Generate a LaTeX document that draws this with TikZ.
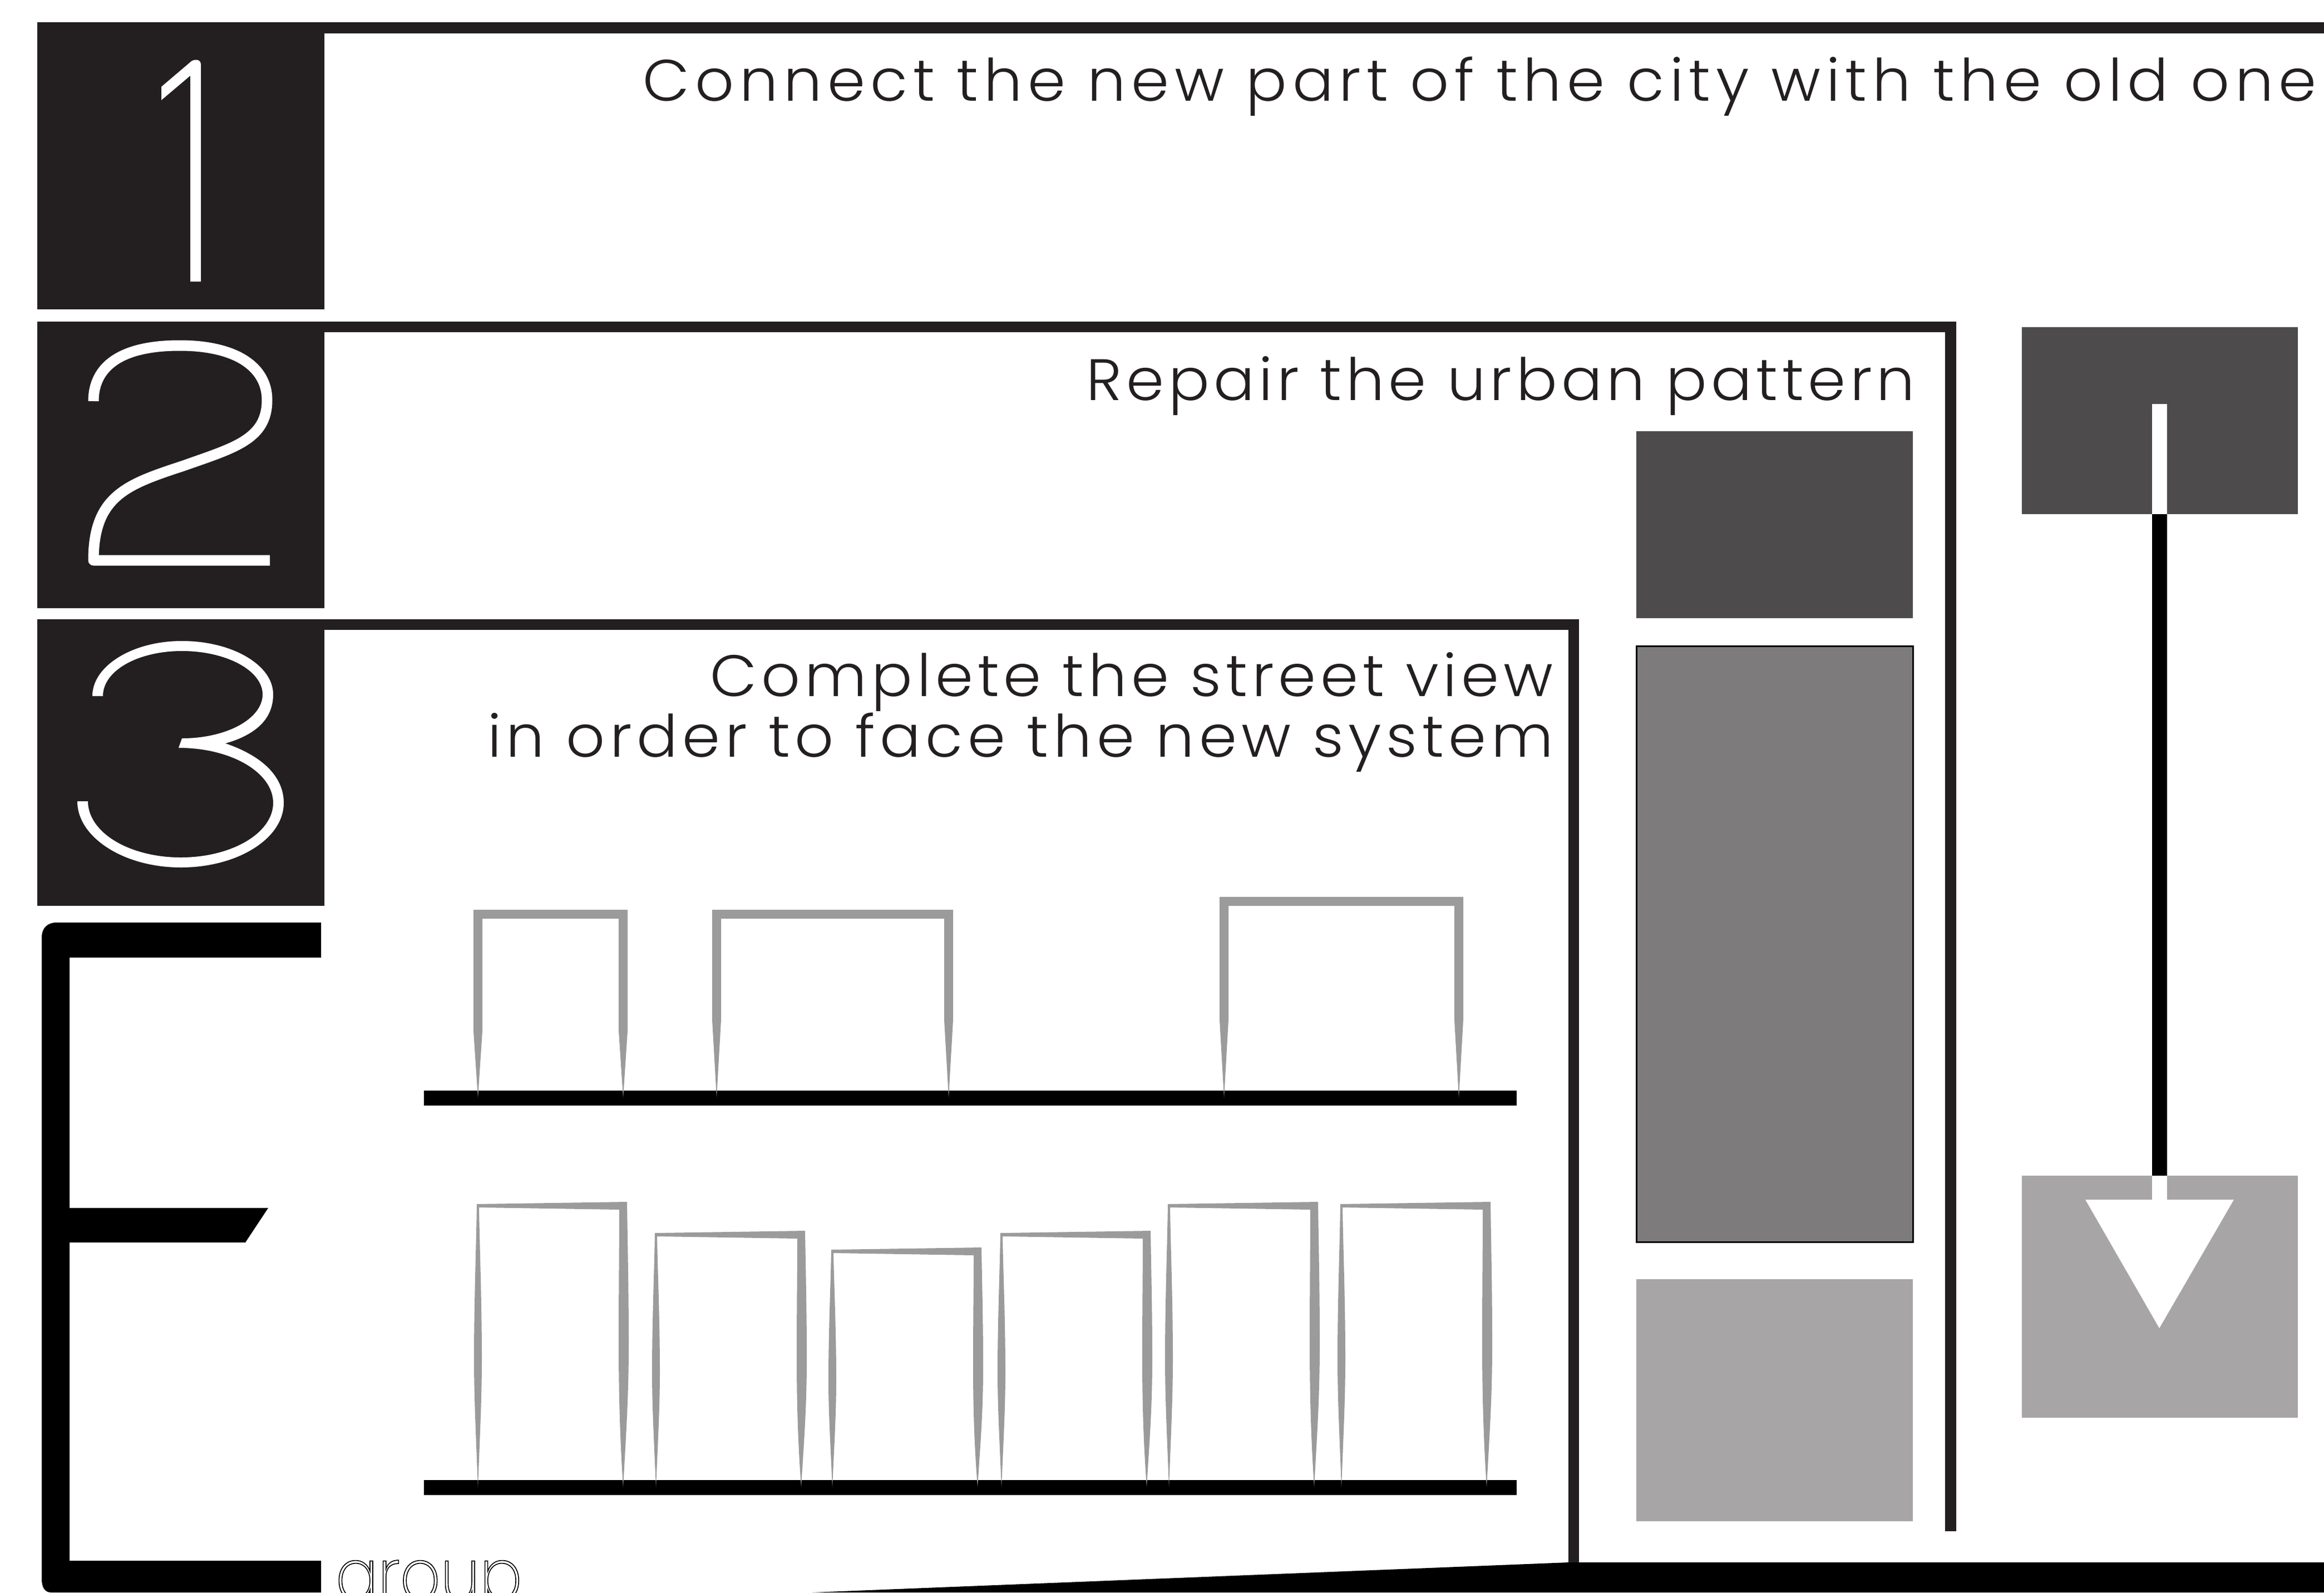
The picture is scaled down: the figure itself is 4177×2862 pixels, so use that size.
\documentclass[tikz,border=0pt]{standalone}
\usepackage{fontspec}
\newfontfamily\lab[UprightFont=* Light,LetterSpace=8,FakeStretch=1.04]{Poppins}
\newfontfamily\thinf[UprightFont=* ExtraLight,FakeStretch=0.87]{Poppins}
\definecolor{ink}{HTML}{231F20}
\definecolor{darkg}{HTML}{4D4B4C}
\definecolor{midg}{HTML}{7D7B7C}
\definecolor{lightg}{HTML}{A7A5A6}
\definecolor{bldg}{HTML}{9B9B9B}
\tikzset{
  lbl/.style={inner sep=0pt,anchor=base east,text=ink,align=right,font=\fontsize{105}{108}\selectfont\lab},
  digit/.style={draw=white,line width=19pt,line join=round},
  bld/.style={fill=bldg,even odd rule},
  gnd/.style={fill=black},
}
\newcommand{\lowbld}[2]{% tip x, top-right y
  \pgfmathsetmacro{\hh}{2673-#2}
  \begin{scope}[shift={(#1,#2)}]
    \fill[bld] (0,\hh) .. controls (-4,0.8*\hh) and (-7,0.68*\hh) .. (-7,0.55*\hh)
      .. controls (-7,0.35*\hh) and (-3,0.15*\hh) .. (-2,4) -- (268,0)
      .. controls (269,0.15*\hh) and (271,0.3*\hh) .. (271,0.5*\hh)
      .. controls (271,0.7*\hh) and (265,0.85*\hh) .. (261,\hh)
      .. controls (256,0.85*\hh) and (253,0.7*\hh) .. (253,0.5*\hh)
      .. controls (253,0.3*\hh) and (254,0.15*\hh) .. (254,14)
      -- (2,10) .. controls (3,0.15*\hh) and (7,0.35*\hh) .. (7,0.55*\hh)
      .. controls (7,0.68*\hh) and (4,0.8*\hh) .. (0,\hh) -- cycle;
  \end{scope}}
\newcommand{\topbld}[4]{% outer left, outer right, top y, leg taper start
  \pgfmathsetmacro{\lo}{#1}\pgfmathsetmacro{\ro}{#2}
  \pgfmathsetmacro{\li}{#1+16}\pgfmathsetmacro{\ri}{#2-16}
  \pgfmathsetmacro{\lt}{#1+8}\pgfmathsetmacro{\rt}{#2-8}
  \pgfmathsetmacro{\yi}{#3+16}
  \fill[bld] (\lt,1973) -- (\lo,#4) -- (\lo,#3) -- (\ro,#3) -- (\ro,#4) -- (\rt,1973)
    -- (\ri,#4) -- (\ri,\yi) -- (\li,\yi) -- (\li,#4) -- cycle;}
\begin{document}
\begin{tikzpicture}[x=1pt,y=-1pt]
\useasboundingbox (0,0) rectangle (4177,2862);
\fill[white] (0,0) rectangle (4177,2862);
\clip (0,0) rectangle (4177,2862);
% frames
\fill[ink] (67,40) rectangle (583,556);
\fill[ink] (583,40) rectangle (4177,60);
\fill[ink] (67,578) rectangle (583,1093);
\fill[ink] (583,578) rectangle (3516,597);
\fill[ink] (3496,578) rectangle (3516,2752);
\fill[ink] (67,1113) rectangle (583,1628);
\fill[ink] (583,1113) rectangle (2838,1132);
\fill[ink] (2819,1113) rectangle (2838,2815);
% digits
\fill[white] (342,506) -- (342,136) -- (290,180) -- (290,156) -- (344,110)
  .. controls (350,106) and (361,106) .. (361,116) -- (361,506) -- cycle;
\draw[digit] (168,721) .. controls (168,660) and (215,621) .. (323,621)
  .. controls (425,621) and (480,660) .. (480,719)
  .. controls (480,790) and (420,805) .. (330,837)
  .. controls (230,870) and (168,890) .. (168,1007) -- (485,1007);
\fill[white] (166,1251) .. controls (166,1197) and (238,1152) .. (327,1152)
  .. controls (417,1152) and (491,1195) .. (491,1248)
  .. controls (491,1295) and (455,1322) .. (405,1336)
  .. controls (470,1358) and (510,1395) .. (510,1443)
  .. controls (510,1507) and (427,1559) .. (325,1559)
  .. controls (223,1559) and (139,1505) .. (139,1440)
  -- (158,1440) .. controls (158,1496) and (232,1541) .. (325,1541)
  .. controls (417,1541) and (491,1497) .. (491,1443)
  .. controls (491,1388) and (415,1344) .. (321,1344)
  -- (327,1327) .. controls (407,1327) and (472,1292) .. (472,1248)
  .. controls (472,1205) and (407,1170) .. (327,1170)
  .. controls (248,1170) and (185,1205) .. (185,1251) -- cycle;
% black E, bottom band
\fill[black] (577,1658) -- (102,1658) .. controls (85,1658) and (75,1668) .. (75,1685)
  -- (75,2838) .. controls (75,2852) and (80,2862) .. (92,2862)
  -- (577,2862) -- (577,2805) -- (125,2805) -- (125,2233) -- (441,2233)
  -- (482,2171) -- (125,2171) -- (125,1721) -- (577,1721) -- cycle;
\fill[black] (1460,2862) -- (2819,2808) -- (4177,2808) -- (4177,2862) -- cycle;
% labels
\node[lbl] (t1) at (4164,181) {\addfontfeature{LetterSpace=9.25}Connect the new part of the city with the old one};
\node[lbl] (t2) at (3442,719) {\addfontfeature{LetterSpace=7.25}Repair the urban pattern};
\node[lbl] (t3) at (2792,1251) {\addfontfeature{LetterSpace=7.6}Complete the street view};
\node[lbl] (t3b) at (2792,1360) {\addfontfeature{LetterSpace=8.2}in order to face the new system};
\node[inner sep=0pt,anchor=base west,font=\fontsize{130}{130}\selectfont\thinf] (grp) at (603,2876) {\special{pdf:code 1 Tr 1.6 w}group\special{pdf:code 0 Tr 1 w}};
% colour blocks
\fill[darkg] (2941,775) rectangle (3438,1111);
\filldraw[fill=midg,draw=black,line width=3pt] (2941,1161) rectangle (3438,2232);
\fill[lightg] (2941,2299) rectangle (3438,2734);
% arrow
\fill[darkg] (3634,588) rectangle (4130,924);
\fill[lightg] (3634,2113) rectangle (4130,2548);
\fill[white] (3868,726) rectangle (3895,924);
\fill[black] (3868,924) rectangle (3895,2113);
\fill[white] (3868,2113) rectangle (3895,2157);
\fill[white] (3748,2156) -- (4015,2156) -- (3881,2387) -- cycle;
% grounds
\fill[gnd] (762,1960) rectangle (2726,1987);
\fill[gnd] (762,2660) rectangle (2726,2687);
% top buildings
\topbld{851}{1128}{1635}{1853}
\topbld{1280}{1713}{1635}{1833}
\topbld{2192}{2630}{1612}{1833}
% lower buildings
\lowbld{859}{2160}
\lowbld{1179}{2212}
\lowbld{1496}{2242}
\lowbld{1800}{2212}
\lowbld{2101}{2160}
\lowbld{2411}{2160}
\end{tikzpicture}
\end{document}
